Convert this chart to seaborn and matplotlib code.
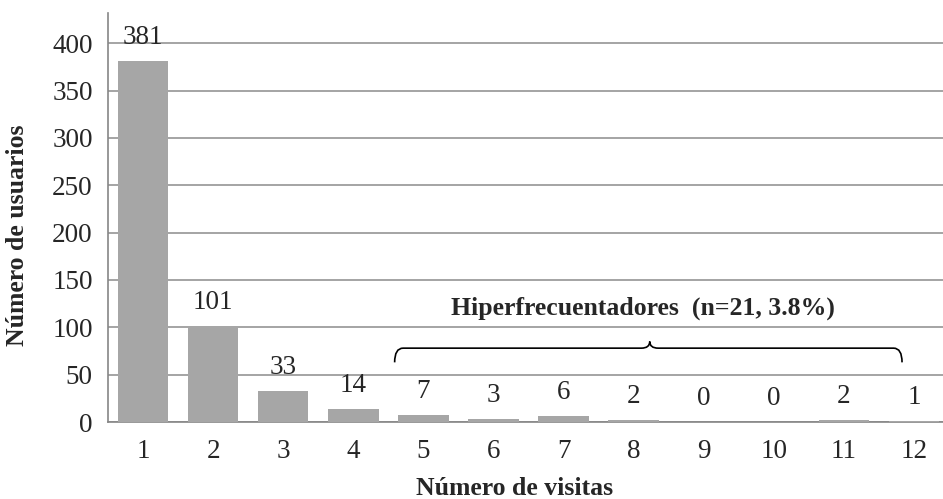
import matplotlib
matplotlib.use("Agg")
import matplotlib.pyplot as plt
import seaborn as sns
import pandas as pd
import numpy as np
from matplotlib.path import Path
from matplotlib.patches import PathPatch

# data
visitas = ['1', '2', '3', '4', '5', '6', '7', '8', '9', '10', '11', '12']
usuarios = [381, 101, 33, 14, 7, 3, 6, 2, 0, 0, 2, 1]
etiqueta_grupo = 'Hiperfrecuentadores  (n=21, 3.8%)'

df = pd.DataFrame({'visitas': visitas, 'usuarios': usuarios})

sns.set_style('white')
plt.rcParams['font.family'] = ['Liberation Serif', 'DejaVu Serif']

fig = plt.figure(figsize=(9.43, 4.99), dpi=100)
ax = fig.add_axes([108 / 943, 1 - 422 / 499, 841 / 943, 409 / 499])

sns.barplot(data=df, x='visitas', y='usuarios', order=visitas, color='#a6a6a6',
            saturation=1, width=0.72, linewidth=0, edgecolor='none', ax=ax, zorder=3)

# value labels above bars
for i, v in enumerate(usuarios):
    ax.annotate(str(v), (i, v), xytext=(0, 8), textcoords='offset points',
                ha='center', va='bottom', fontsize=19.5)

ax.set_ylim(0, 432)
ax.set_xlim(-0.5, len(visitas) - 0.5)
ax.set_yticks(np.arange(0, 401, 50))
ax.yaxis.grid(True, color='#8c8c8c', linewidth=1.1, zorder=0)
ax.set_axisbelow(True)

# tick marks between categories
ax.set_xticks(np.arange(-0.5, len(visitas), 1), minor=True)
ax.tick_params(axis='x', which='major', length=0, labelsize=19.5, pad=12)
ax.tick_params(axis='x', which='minor', length=6, width=1, color='#868686', direction='out')
ax.tick_params(axis='y', which='major', length=8, width=1, color='#868686',
               direction='out', labelsize=19.5, pad=3)

for s in ['top', 'right']:
    ax.spines[s].set_visible(False)
for s in ['left', 'bottom']:
    ax.spines[s].set_color('#868686')
    ax.spines[s].set_linewidth(1.2)

ax.set_xlabel('Número de visitas', fontsize=18.5, fontweight='bold')
ax.set_ylabel('Número de usuarios', fontsize=18.5, fontweight='bold')
ax.xaxis.set_label_coords(0.484, -0.135)
ax.yaxis.set_label_coords(-0.094, 0.457)

# brace over the hiperfrecuentadores
x0, x1, xt = 3.59, 10.83, 7.23
yl, ye, ytip = 78, 63, 85
d = 0.12
verts = [(x0, ye), (x0, yl), (x0 + d, yl),
         (xt - d, yl), (xt, yl), (xt, ytip),
         (xt, yl), (xt + d, yl),
         (x1 - d, yl), (x1, yl), (x1, ye)]
codes = [Path.MOVETO, Path.CURVE3, Path.CURVE3,
         Path.LINETO, Path.CURVE3, Path.CURVE3,
         Path.CURVE3, Path.CURVE3,
         Path.LINETO, Path.CURVE3, Path.CURVE3]
ax.add_patch(PathPatch(Path(verts, codes), fill=False, lw=1.2, edgecolor='black', zorder=5))
ax.text(7.13, 120, etiqueta_grupo, ha='center', va='center', fontsize=18.5, fontweight='bold')

fig.savefig('out.png', dpi=100)
